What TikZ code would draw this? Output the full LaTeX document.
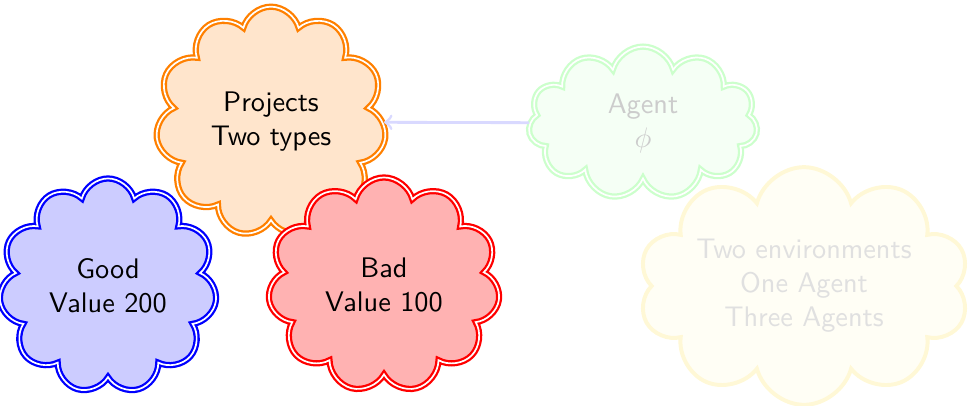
\documentclass[tikz,border=0pt]{standalone}
\usetikzlibrary{shapes.symbols,arrows}
\definecolor{agentdraw}{RGB}{204,255,204}
\definecolor{agentfill}{RGB}{245,255,245}
\definecolor{envdraw}{RGB}{255,248,214}
\definecolor{envfill}{RGB}{255,254,245}
\tikzset{
  cloudbox/.style={cloud, cloud puffs=11, draw, double, thick, align=center, inner sep=0pt},
}
\begin{document}
\begin{tikzpicture}[x=0.3534pt, y=-0.3534pt, font=\sffamily]
\useasboundingbox (0,0) rectangle (968,406);
\node[cloud, cloud puffs=10, draw=envdraw, fill=envfill, line width=1.4pt, text=black!12, inner sep=0pt,
      minimum width=117pt, minimum height=84pt] (env) at (804,286)
  {\makebox[0pt][c]{\raisebox{-2.5pt}[0pt][0pt]{\begin{tabular}{@{}c@{}}Two environments\\One Agent\\Three Agents\end{tabular}}}};
\node[cloudbox, draw=agentdraw, fill=agentfill, text=black!20,
      minimum width=81pt, minimum height=54pt] (agent) at (643,123) {Agent\\$\phi$};
\node[cloudbox, draw=orange, fill=orange!20, minimum width=81.5pt, minimum height=81.5pt] (proj) at (271,122) {Projects\\Two types};
\node[cloudbox, draw=blue, fill=blue!20, minimum width=77pt, minimum height=76pt] (good) at (108,286) {Good\\Value 200};
\node[cloudbox, draw=red, fill=red!30, minimum width=82pt, minimum height=76pt] (bad) at (384,285) {Bad\\Value 100};
\draw[-to, blue!15, line width=1pt] (agent) -- (proj);
\end{tikzpicture}
\end{document}
